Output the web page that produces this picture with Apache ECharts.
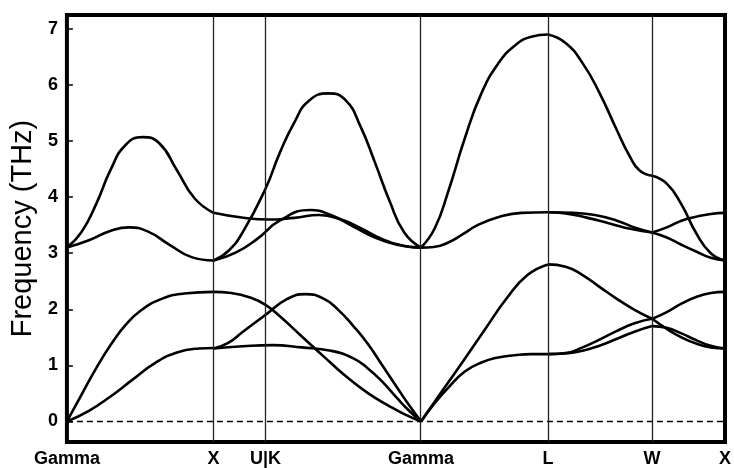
<!DOCTYPE html>
<html>
<head>
<meta charset="utf-8">
<script src="https://cdn.jsdelivr.net/npm/echarts@6/dist/echarts.min.js"></script>
<style>
  html, body { margin: 0; padding: 0; background: #fff; }
  #chart { width: 734px; height: 468px; }
</style>
</head>
<body>
<div id="chart"></div>
<script>
// High-symmetry points along the path (cumulative k distance)
const kPoints = [0, 1.0, 1.354, 2.414, 3.28, 3.99, 4.487];
const kLabels = ['Gamma', 'X', 'U|K', 'Gamma', 'L', 'W', 'X'];
const freqTicks = [0, 1, 2, 3, 4, 5, 6, 7];

// Each band piece is a list of [k, frequency in THz]

// Gamma -> X
const gxTA = [[0,0],[0.15,0.19],[0.3,0.45],[0.45,0.75],[0.6,1.04],[0.75,1.23],[0.9,1.30],[1.0,1.31]];
const gxLA = [[0,0],[0.1,0.48],[0.2,0.95],[0.3,1.37],[0.4,1.72],[0.5,1.97],[0.65,2.19],[0.8,2.28],[1.0,2.31]];
const gxTO = [[0,3.10],[0.15,3.23],[0.3,3.40],[0.424,3.46],[0.55,3.39],[0.7,3.15],[0.85,2.93],[1.0,2.87]];
const gxLO = [[0,3.10],[0.1,3.38],[0.2,3.88],[0.3,4.50],[0.4,4.93],[0.515,5.07],[0.63,4.96],[0.75,4.48],[0.87,3.98],[1.0,3.72]];

// X -> U|K -> Gamma
const xgA = [[1.0,3.72],[1.18,3.64],[1.38,3.60],[1.55,3.63],[1.72,3.68],[1.87,3.60],[2.0,3.45],[2.15,3.25],[2.3,3.13],[2.414,3.10]];
const xgB = [[1.0,2.87],[1.1,3.04],[1.2,3.38],[1.354,4.15],[1.45,4.78],[1.55,5.33],[1.65,5.72],[1.784,5.85],[1.9,5.73],[2.0,5.27],[2.1,4.62],[2.2,3.93],[2.3,3.37],[2.414,3.10]];
const xgC = [[1.0,2.87],[1.15,3.01],[1.3,3.26],[1.45,3.58],[1.659,3.77],[1.8,3.68],[1.95,3.48],[2.1,3.28],[2.25,3.15],[2.414,3.10]];
const xgD = [[1.0,2.31],[1.12,2.29],[1.25,2.21],[1.354,2.08],[1.45,1.88],[1.6,1.52],[1.75,1.16],[1.9,0.81],[2.05,0.51],[2.2,0.27],[2.3,0.13],[2.414,0]];
const xgE = [[1.0,1.30],[1.1,1.40],[1.2,1.60],[1.354,1.90],[1.5,2.18],[1.625,2.27],[1.75,2.19],[1.85,1.99],[1.95,1.71],[2.05,1.39],[2.15,1.00],[2.25,0.61],[2.33,0.30],[2.414,0]];
const xgF = [[1.0,1.30],[1.2,1.34],[1.4,1.36],[1.6,1.32],[1.8,1.26],[1.95,1.13],[2.05,0.95],[2.15,0.71],[2.25,0.42],[2.33,0.20],[2.414,0]];

// Gamma -> L
const glTA = [[2.414,0],[2.509,0.33],[2.60,0.60],[2.713,0.89],[2.826,1.05],[2.94,1.14],[3.053,1.18],[3.166,1.20],[3.28,1.20]];
const glLA = [[2.414,0],[2.55,0.51],[2.7,1.07],[2.85,1.64],[3.0,2.20],[3.14,2.61],[3.28,2.80]];
const glTO = [[2.414,3.10],[2.5,3.11],[2.6,3.19],[2.7,3.34],[2.8,3.50],[2.95,3.65],[3.1,3.72],[3.28,3.73]];
const glLO = [[2.414,3.10],[2.509,3.45],[2.60,4.10],[2.713,5.05],[2.826,5.85],[2.94,6.38],[3.053,6.70],[3.166,6.86],[3.28,6.90]];

// L -> W
const lwLO  = [[3.28,6.90],[3.40,6.75],[3.516,6.39],[3.631,5.86],[3.747,5.21],[3.835,4.74],[3.903,4.48],[3.99,4.38]];
const lwTO1 = [[3.28,3.73],[3.45,3.72],[3.6,3.68],[3.75,3.58],[3.88,3.45],[3.99,3.37]];
const lwTO2 = [[3.28,3.73],[3.4,3.71],[3.55,3.63],[3.7,3.53],[3.85,3.43],[3.99,3.37]];
const lwLA  = [[3.28,2.80],[3.40,2.76],[3.516,2.61],[3.631,2.40],[3.747,2.19],[3.87,1.99],[3.99,1.83]];
const lwTA1 = [[3.28,1.20],[3.40,1.22],[3.516,1.32],[3.631,1.46],[3.747,1.61],[3.87,1.75],[3.99,1.83]];
const lwTA2 = [[3.28,1.20],[3.40,1.21],[3.516,1.26],[3.631,1.35],[3.747,1.47],[3.87,1.60],[3.99,1.70]];

// W -> X
const wxLO  = [[3.99,4.38],[4.09,4.24],[4.19,3.87],[4.29,3.36],[4.39,3.00],[4.487,2.87]];
const wxTO1 = [[3.99,3.37],[4.09,3.46],[4.19,3.58],[4.29,3.65],[4.39,3.70],[4.487,3.72]];
const wxTO2 = [[3.99,3.37],[4.09,3.28],[4.19,3.15],[4.29,3.03],[4.39,2.92],[4.487,2.87]];
const wxTA1 = [[3.99,1.83],[4.09,1.95],[4.19,2.10],[4.29,2.22],[4.39,2.29],[4.487,2.31]];
const wxLA  = [[3.99,1.83],[4.09,1.65],[4.19,1.50],[4.29,1.39],[4.39,1.32],[4.487,1.30]];
const wxTA2 = [[3.99,1.70],[4.09,1.67],[4.19,1.57],[4.29,1.45],[4.39,1.35],[4.487,1.30]];

const bandPieces = [
  gxTA, gxLA, gxTO, gxLO,
  xgA, xgB, xgC, xgD, xgE, xgF,
  glTA, glLA, glTO, glLO,
  lwLO, lwTO1, lwTO2, lwLA, lwTA1, lwTA2,
  wxLO, wxTO1, wxTO2, wxTA1, wxLA, wxTA2
];

const FONT = '"Liberation Sans", Arial, Helvetica, sans-serif';

const series = bandPieces.map(piece => ({
  type: 'line',
  data: piece,
  showSymbol: false,
  smooth: 0.5,
  lineStyle: { color: '#000', width: 2.6 },
  silent: true,
  z: 3
}));

// Vertical guides at the inner high-symmetry points and the zero line
series.push({
  type: 'line',
  data: [],
  silent: true,
  markLine: {
    silent: true,
    symbol: 'none',
    label: { show: false },
    animation: false,
    data: kPoints.slice(1, -1).map(k => ({
      xAxis: k,
      lineStyle: { color: '#222', width: 1.3, type: 'solid' }
    })).concat([{
      yAxis: 0,
      lineStyle: { color: '#000', width: 1.3, type: [6, 4] }
    }])
  },
  z: 2
});

const chart = echarts.init(document.getElementById('chart'), null, { renderer: 'canvas' });
chart.setOption({
  animation: false,
  backgroundColor: '#fff',
  grid: {
    left: 66, right: 8, top: 15, bottom: 23,
    show: true, borderColor: '#000', borderWidth: 4, backgroundColor: 'transparent'
  },
  xAxis: {
    type: 'value',
    min: 0,
    max: 4.487,
    axisLine: { show: false },
    axisTick: { show: false },
    splitLine: { show: false },
    axisLabel: {
      customValues: kPoints,
      margin: 8,
      color: '#000',
      fontFamily: FONT,
      fontWeight: 'bold',
      fontSize: 18,
      formatter: v => {
        const i = kPoints.findIndex(p => Math.abs(p - v) < 1e-6);
        return i >= 0 ? kLabels[i] : '';
      }
    }
  },
  yAxis: {
    type: 'value',
    min: -0.367,
    max: 7.248,
    name: 'Frequency (THz)',
    nameLocation: 'middle',
    nameGap: 28,
    nameTextStyle: { color: '#000', fontFamily: FONT, fontSize: 29, fontWeight: 'normal' },
    axisLine: { show: false },
    splitLine: { show: false },
    axisTick: {
      show: true, inside: true, length: 6, customValues: freqTicks,
      lineStyle: { color: '#000', width: 1.5 }
    },
    axisLabel: {
      customValues: freqTicks,
      margin: 9,
      color: '#000',
      fontFamily: FONT,
      fontWeight: 'bold',
      fontSize: 18
    }
  },
  series: series
});
</script>
</body>
</html>
